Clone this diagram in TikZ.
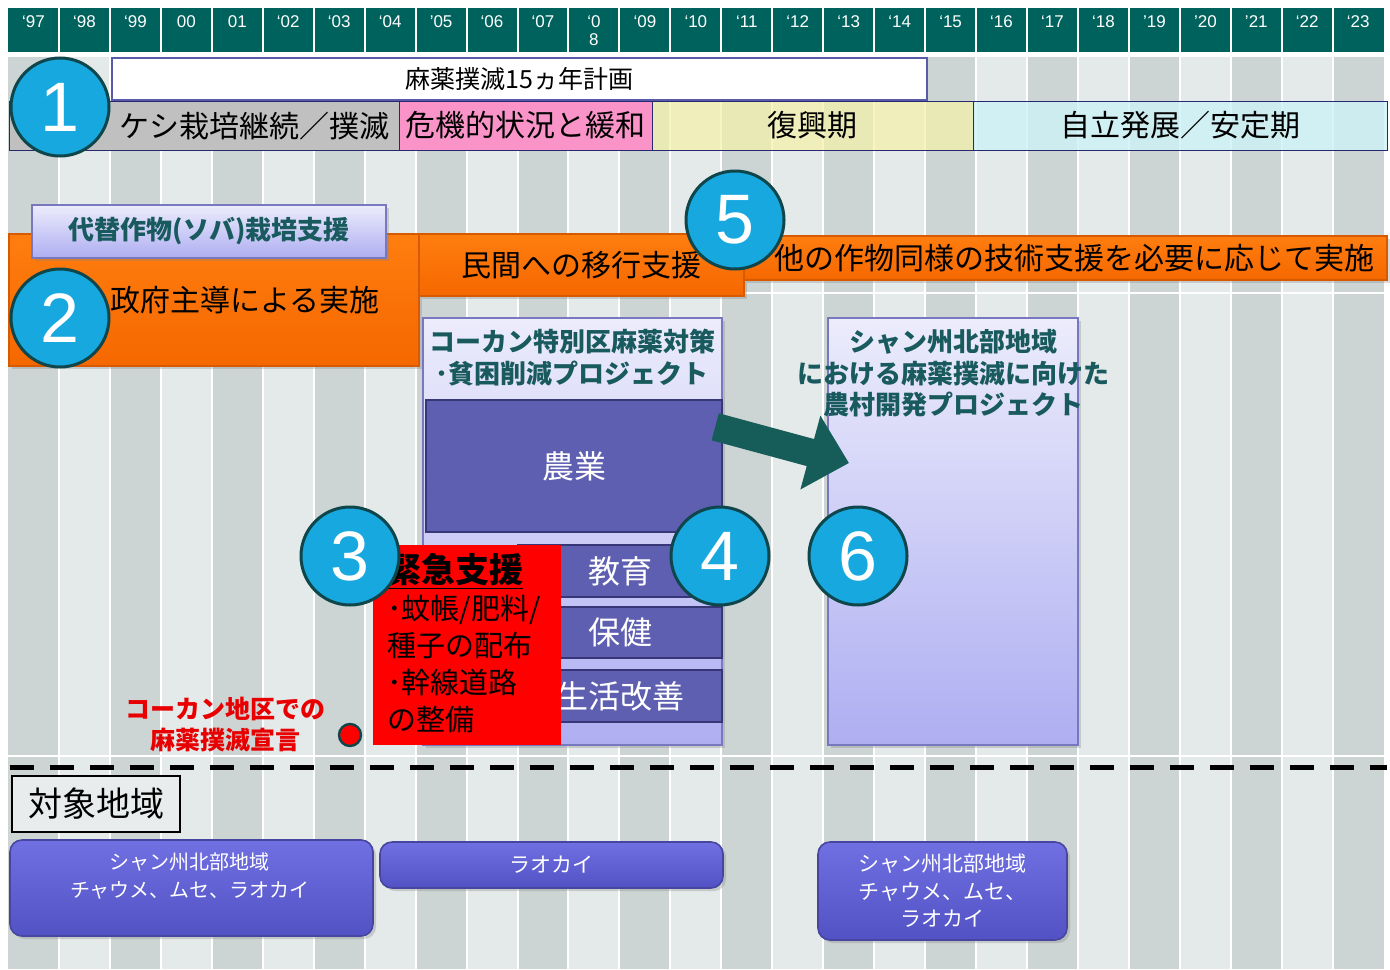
\documentclass[tikz,border=0pt]{standalone}
\usepackage{fontspec}
\setmainfont{Noto Sans CJK JP}
\newfontfamily\latinfont{Liberation Sans}
\usetikzlibrary{arrows.meta,shadows,calc}
\definecolor{hdrteal}{RGB}{0,98,92}
\definecolor{stripeA}{RGB}{204,212,212}
\definecolor{stripeB}{RGB}{228,233,233}
\definecolor{segGray}{RGB}{192,192,192}
\definecolor{segPink}{RGB}{250,148,200}
\definecolor{segYellow}{RGB}{246,242,170}
\definecolor{segCyan}{RGB}{205,242,247}
\definecolor{navy}{RGB}{40,40,110}
\definecolor{titleedge}{RGB}{90,90,170}
\definecolor{circblue}{RGB}{22,168,222}
\definecolor{circedge}{RGB}{15,70,75}
\definecolor{orangeTop}{RGB}{255,125,15}
\definecolor{orangeBot}{RGB}{245,104,0}
\definecolor{orangeedge}{RGB}{215,90,0}
\definecolor{lavTop}{RGB}{236,236,252}
\definecolor{lavBot}{RGB}{174,174,242}
\definecolor{lavedge}{RGB}{120,120,190}
\definecolor{titleteal}{RGB}{25,90,95}
\definecolor{innerblue}{RGB}{95,95,178}
\definecolor{inneredge}{RGB}{55,55,120}
\definecolor{arrowteal}{RGB}{22,92,88}
\definecolor{blueTop}{RGB}{112,112,226}
\definecolor{blueBot}{RGB}{82,82,196}
\definecolor{blueedge}{RGB}{70,70,160}
\definecolor{declred}{RGB}{232,0,0}
\definecolor{areafill}{RGB}{232,236,236}
\begin{document}
\begin{tikzpicture}[x=0.5pt,y=-0.5pt,
  sz/.style 2 args={minimum width=#1*0.5pt, minimum height=#2*0.5pt, inner sep=0pt},
  yr/.style={text=white, anchor=north, inner sep=0pt, align=center,
    font=\latinfont\fontsize{8.5}{9}\selectfont},
  titlebox/.style={fill=white, draw=titleedge, line width=0.8pt,
    font=\fontsize{12.5}{15}\selectfont},
  seg/.style={draw=navy, line width=0.5pt, font=\fontsize{15}{18}\selectfont},
  segtext/.style={inner sep=0pt, font=\fontsize{15}{18}\selectfont},
  num/.style={circle, fill=circblue, draw=circedge, line width=1.5pt, minimum size=49pt,
    inner sep=0pt, text=white, font=\latinfont\fontsize{35}{35}\selectfont},
  shadowed/.style={drop shadow={opacity=0.3, shadow xshift=1.5pt, shadow yshift=-1.5pt}},
  orangebox/.style={draw=orangeedge, line width=0.6pt, top color=orangeTop,
    bottom color=orangeBot, font=\fontsize{15}{18}\selectfont, shadowed},
  bigtext/.style={inner sep=0pt, font=\fontsize{15}{18}\selectfont},
  lavbox/.style={draw=lavedge, line width=0.6pt, top color=lavTop, bottom color=lavBot,
    text=titleteal, font=\bfseries\fontsize{13}{15.5}\selectfont, shadowed},
  projtitle/.style={inner sep=0pt, align=center, text=titleteal,
    font=\bfseries\fontsize{13}{15.75}\selectfont},
  innerbox/.style={fill=innerblue, draw=inneredge, line width=1.2pt, text=white,
    font=\fontsize{16}{19}\selectfont},
  redbox/.style={fill=red, draw=none},
  emergtext/.style={inner sep=0pt, align=left, anchor=north west,
    font=\fontsize{14.5}{18.5}\selectfont},
  reddot/.style={circle, fill=red, draw=circedge, line width=1.2pt, minimum size=11pt,
    inner sep=0pt},
  redtext/.style={inner sep=0pt, align=center, text=declred,
    font=\bfseries\fontsize{12.5}{15.5}\selectfont},
  bigarrow/.style={draw=arrowteal, line width=14pt,
    -{Triangle[length=20pt, width=37pt]}},
  dashln/.style={draw=black, line width=2.5pt, dash pattern=on 12pt off 8pt},
  areabox/.style={fill=areafill, draw=black, line width=1pt,
    font=\fontsize{17}{20}\selectfont},
  bluebox/.style={rounded corners=6pt, draw=blueedge, line width=0.8pt,
    top color=blueTop, bottom color=blueBot, text=white, align=center,
    font=\fontsize{10.5}{13.75}\selectfont, shadowed},
  bluetext/.style={inner sep=0pt, align=center, text=white,
    font=\fontsize{10}{14}\selectfont}
]
\useasboundingbox (0,0) rectangle (1390,969);
\fill[white] (0,0) rectangle (1390,969);
% columns
\foreach \i in {0,...,26} {
  \pgfmathsetmacro\xa{8+\i*50.95}
  \pgfmathsetmacro\xb{8+(\i+1)*50.95}
  \ifodd\i \def\sc{stripeB}\else \def\sc{stripeA}\fi
  \fill[\sc] (\xa,57) rectangle (\xb,969);
  \fill[hdrteal] (\xa,8) rectangle (\xb,52);
}
\foreach \i in {1,...,26} {
  \draw[white, line width=1pt] (8+\i*50.95,8) -- (8+\i*50.95,969);
}
\draw[white, line width=1pt] (8,293) -- (1390,293);
\draw[white, line width=1pt] (8,756) -- (1390,756);
% years
\foreach \i/\t in {0/‘97,1/‘98,2/‘99,3/00,4/01,5/‘02,6/‘03,7/‘04,8/’05,9/‘06,10/‘07,
  12/‘09,13/‘10,14/‘11,15/‘12,16/‘13,17/‘14,18/‘15,19/‘16,20/‘17,21/‘18,22/’19,
  23/’20,24/’21,25/‘22,26/‘23} {
  \node[yr] (y\i) at (33.5+\i*50.95,15) {\t};
}
\node[yr] (y11) at (33.5+11*50.95,15) {‘0\\8};
% plan and periods
\node[titlebox, sz={815}{42}] (plan) at (519.5,79) {麻薬撲滅15ヵ年計画};
\node[seg, fill=segGray, sz={390}{49}] (p1) at (204,125.5) {};
\node[segtext] (p1t) at (254,126) {ケシ栽培継続／撲滅};
\node[seg, fill=segPink, sz={253}{49}] (p2) at (525.5,125.5) {危機的状況と緩和};
\node[seg, fill=segYellow, fill opacity=0.7, text opacity=1, sz={321}{49}] (p3) at (812.5,125.5) {復興期};
\node[seg, fill=segCyan, fill opacity=0.8, text opacity=1, sz={414}{49}] (p4) at (1180,125.5) {自立発展／安定期};
\node[num] (c1) at (60,107) {1};
% orange bars
\node[orangebox, sz={410}{132}] (gov) at (214,300) {};
\node[bigtext] (govt) at (245,300) {政府主導による実施};
\node[orangebox, sz={325}{62}] (priv) at (581.5,265) {民間への移行支援};
\node[orangebox, sz={643}{44}] (tech) at (1065.5,258) {};
\node[bigtext] (techt) at (1074,258) {他の作物同様の技術支援を必要に応じて実施};
\node[lavbox, sz={354}{53}] (soba) at (209,231.5) {代替作物(ソバ)栽培支援};
\node[num] (c2) at (60,318) {2};
\node[num] (c5) at (735,220) {5};
% project 1
\node[lavbox, sz={299}{427}] (proj1) at (572.5,531.5) {};
\node[projtitle] (proj1t) at (572,357.5) {コーカン特別区麻薬対策\\･貧困削減プロジェクト};
\node[innerbox, sz={296}{132}] (nogyo) at (574,466) {農業};
\node[innerbox, sz={204}{52}] (kyoiku) at (620,571) {教育};
\node[innerbox, sz={204}{51}] (hoken) at (620,632.5) {保健};
\node[innerbox, sz={204}{52}] (seikatsu) at (620,696) {生活改善};
\node[redbox, sz={188}{200}] (emerg) at (467,645) {};
\node[emergtext] (emergt) at (387,553) {{\bfseries\fontsize{17}{20}\selectfont\underline{緊急支援}}\\･蚊帳/肥料/\\種子の配布\\･幹線道路\\の整備};
\node[num] (c3) at (350,556) {3};
\node[num] (c4) at (720,556) {4};
\node[reddot] (decl) at (350,735) {};
\node[redtext] (declt) at (225,724.5) {コーカン地区での\\麻薬撲滅宣言};
% project 2
\node[lavbox, sz={250}{427}] (proj2) at (953,531.5) {};
\node[projtitle] (proj2t) at (953,373.5) {シャン州北部地域\\における麻薬撲滅に向けた\\農村開発プロジェクト};
\node[num] (c6) at (858,556) {6};
% arrow
\coordinate (atip) at (849,463);
\draw[bigarrow] ($(nogyo.north east)+(-8,28)$) -- (atip);
% dashed separator
\coordinate (dL) at (10,767);
\coordinate (dR) at (1387,767);
\draw[dashln] (dL) -- (dR);
% target areas
\node[areabox, sz={168}{56}] (area) at (96,804) {対象地域};
\node[bluebox, sz={363}{96}] (r1) at (191.5,888) {};
\node[bluetext] (r1t) at (190,876) {シャン州北部地域\\チャウメ、ムセ、ラオカイ};
\node[bluebox, sz={343}{46}] (r2) at (551.5,865) {ラオカイ};
\node[bluebox, sz={249}{98}] (r3) at (942.5,891) {シャン州北部地域\\チャウメ、ムセ、\\ラオカイ};
\end{tikzpicture}
\end{document}
